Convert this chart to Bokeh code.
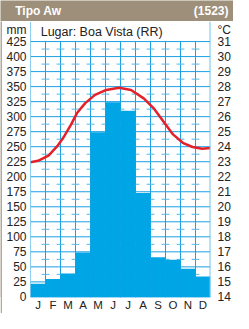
from bokeh.plotting import figure
from bokeh.models import Range1d, LinearAxis, FixedTicker, Label, Span
from bokeh.layouts import column, row
from bokeh.embed import file_html
from bokeh.resources import INLINE

# ---- data ----
months = ["J", "F", "M", "A", "M", "J", "J", "A", "S", "O", "N", "D"]
precip_mm = [22, 30, 39, 74, 274, 324, 310, 173, 66, 62, 47, 34]
temp_pos = [0, 0.5, 1.2, 1.8, 2.25, 2.7, 3.1, 3.65, 4.3, 5.05, 5.9,
            6.7, 7.55, 8.2, 8.85, 9.5, 10.15, 10.8, 11.45, 12]
temp_c = [22.96, 23.06, 23.4, 24.05, 24.7, 25.47, 26.24, 26.9, 27.45, 27.78, 27.93,
          27.78, 27.22, 26.57, 25.69, 24.82, 24.26, 23.98, 23.87, 23.91]
mm_ticks = list(range(0, 426, 25))
c_ticks = list(range(14, 32))
title_left = "Tipo Aw"
title_right = "(1523)"
place = "Lugar: Boa Vista (RR)"

FONT = "Liberation Sans"
TXT = "#222222"
HEAD = "#9d8f7a"
STRIP = "#b3a998"
GRID = "#1c9fe2"
DASH = "#52b6e9"
BAR = "#00a5e5"
RED = "#e3212b"

Y0, Y1 = -1, 458.4
MM_LBL, C_LBL = 445, 31.8

# ---- header ----
h = figure(width=233, height=21, x_range=Range1d(0, 233), y_range=Range1d(0, 21),
           min_border=0, toolbar_location=None, output_backend="svg")
h.axis.visible = False
h.grid.visible = False
h.outline_line_color = None
h.background_fill_color = HEAD
h.border_fill_color = HEAD
h.add_layout(Label(x=14.7, y=10.5, text=title_left, text_color="white",
                   text_font=FONT, text_font_style="bold", text_font_size="12px",
                   text_baseline="middle"))
h.add_layout(Label(x=228, y=10.5, text=title_right, text_color="white",
                   text_font=FONT, text_font_style="bold", text_font_size="12px",
                   text_baseline="middle", text_align="right"))

# ---- left strip of the frame ----
s = figure(width=2, height=292, x_range=Range1d(0, 1), y_range=Range1d(0, 1),
           min_border=0, toolbar_location=None, output_backend="svg")
s.axis.visible = False
s.grid.visible = False
s.outline_line_color = None
s.background_fill_color = STRIP
s.border_fill_color = STRIP

# ---- main ----
p = figure(width=231, height=292, x_range=Range1d(0, 12), y_range=Range1d(Y0, Y1),
           min_border_left=28, min_border_right=20, min_border_top=0, min_border_bottom=13,
           toolbar_location=None, output_backend="svg")
p.outline_line_color = None
p.xgrid.visible = False
p.ygrid.visible = False
p.background_fill_color = "white"
p.border_fill_color = "white"

p.extra_y_ranges = {"temp": Range1d(14 + Y0 / 25, 14 + Y1 / 25)}

yl = p.yaxis[0]
yl.ticker = FixedTicker(ticks=mm_ticks + [MM_LBL])
yl.major_label_overrides = {MM_LBL: "mm"}
xl = p.xaxis[0]
xl.ticker = FixedTicker(ticks=[i + 0.5 for i in range(12)])
xl.major_label_overrides = {i + 0.5: m for i, m in enumerate(months)}
yr = LinearAxis(y_range_name="temp", ticker=FixedTicker(ticks=c_ticks + [C_LBL]))
yr.major_label_overrides = {C_LBL: "°C"}
p.add_layout(yr, "right")

for ax, sd in ((yl, 4), (xl, 1), (yr, 7)):
    ax.axis_line_color = None
    ax.major_tick_line_color = None
    ax.minor_tick_line_color = None
    ax.major_tick_out = 0
    ax.major_tick_in = 0
    ax.minor_tick_out = 0
    ax.minor_tick_in = 0
    ax.axis_label_standoff = 0
    ax.major_label_text_font = FONT
    ax.major_label_text_font_size = "12px"
    ax.major_label_text_color = TXT
    ax.major_label_standoff = sd
xl.major_label_text_font_size = "11.5px"

# grid (decoration)
hy = [float(v) for v in mm_ticks]
p.segment(x0=[0.0] * len(hy), x1=[12.0] * len(hy), y0=hy, y1=hy,
          line_color=GRID, line_width=1)
vx = [float(k) for k in range(1, 12)]
p.segment(x0=vx, x1=vx, y0=[float(Y0)] * len(vx), y1=[425.0] * len(vx),
          line_color=GRID, line_width=1)
mids = [12.5 + 25 * j for j in range(17)]
dx0, dx1, dy = [], [], []
for yv in mids:
    for k in vx:
        dx0.append(k - 0.26)
        dx1.append(k + 0.26)
        dy.append(yv)
p.segment(x0=dx0, x1=dx1, y0=dy, y1=dy, line_color=DASH, line_width=1)

# bars
p.vbar(x=[i + 0.5 for i in range(12)], top=precip_mm, bottom=Y0, width=1,
       fill_color=BAR, line_color=None)

# temperature curve
p.line(x=temp_pos, y=temp_c, y_range_name="temp", line_color=RED, line_width=2.5)

# frame borders
p.add_layout(Span(location=0, dimension="height", line_color=GRID, line_width=1))
p.add_layout(Span(location=12, dimension="height", line_color="#6cc6ef", line_width=2))

p.add_layout(Label(x=0.68, y=441, text=place, text_font=FONT, text_font_size="12.5px",
                   text_color=TXT, text_baseline="middle"))

layout = column(h, row(s, p))
open("out.html", "w").write(file_html(layout, INLINE))
